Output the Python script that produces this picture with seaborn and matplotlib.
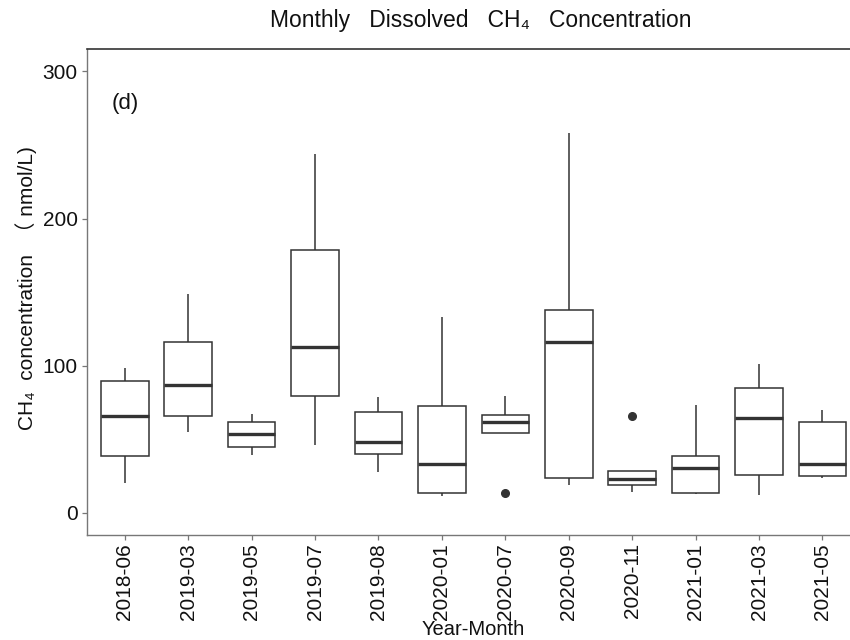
import matplotlib
matplotlib.use("Agg")
import matplotlib.pyplot as plt
import seaborn as sns
import pandas as pd

# ---- data (estimated observations per month; 5 per group) ----
months = ["2018-06", "2019-03", "2019-05", "2019-07", "2019-08", "2020-01",
          "2020-07", "2020-09", "2020-11", "2021-01", "2021-03", "2021-05"]
v_2018_06 = [20.6, 38.9, 65.6, 89.3, 98.6]
v_2019_03 = [55.0, 65.8, 86.8, 115.8, 149.0]
v_2019_05 = [39.1, 44.8, 53.4, 61.7, 67.2]
v_2019_07 = [46.1, 79.2, 112.4, 178.4, 243.6]
v_2019_08 = [28.0, 40.0, 48.4, 68.3, 78.5]
v_2020_01 = [11.5, 13.6, 33.2, 72.4, 133.0]
v_2020_07 = [13.8, 54.3, 61.5, 66.7, 79.6]
v_2020_09 = [19.0, 23.5, 116.2, 137.9, 257.8]
v_2020_11 = [14.0, 18.8, 22.8, 28.5, 66.0]
v_2021_01 = [12.9, 13.8, 30.3, 38.5, 73.5]
v_2021_03 = [12.0, 26.0, 64.2, 84.6, 100.9]
v_2021_05 = [23.5, 25.1, 33.2, 61.7, 69.7]
y_ticks = [0, 100, 200, 300]

groups = [v_2018_06, v_2019_03, v_2019_05, v_2019_07, v_2019_08, v_2020_01,
          v_2020_07, v_2020_09, v_2020_11, v_2021_01, v_2021_03, v_2021_05]
rows = []
for m, vals in zip(months, groups):
    for v in vals:
        rows.append({"month": m, "value": v})
df = pd.DataFrame(rows)

sns.set_style("ticks")
FAM = ["Liberation Sans", "DejaVu Sans", "Noto Sans CJK SC"]
plt.rcParams["font.family"] = FAM

fig = plt.figure(figsize=(8.5, 6.4), dpi=100)
W, H = 850, 640
left, right, top, bottom = 86.7, 860.5, 49.3, 535.0
ax = fig.add_axes([left / W, 1 - bottom / H, (right - left) / W, (bottom - top) / H])

dark = "#333333"
sns.boxplot(data=df, x="month", y="value", order=months, ax=ax,
            color="white", linecolor=dark, linewidth=1.1, width=0.75,
            showcaps=False, fliersize=5.5,
            flierprops=dict(marker="o", markerfacecolor=dark, markeredgecolor=dark),
            medianprops=dict(linewidth=2.4, color=dark),
            whiskerprops=dict(linewidth=1.1, color=dark))

ax.set_xlim(-0.6, 11.6)
ax.set_ylim(-15, 315)
ax.set_yticks(y_ticks)
ax.set_yticklabels([str(t) for t in y_ticks])
ax.tick_params(axis="both", labelsize=15, length=3.5, width=0.9,
               color="#777777", labelcolor="#111111", pad=3)
ax.tick_params(axis="x", pad=2.5)
plt.setp(ax.get_xticklabels(), rotation=90, va="top", ha="center")

for s in ["left", "bottom"]:
    ax.spines[s].set_color("#777777")
    ax.spines[s].set_linewidth(1.0)
ax.spines["top"].set_visible(True)
ax.spines["top"].set_color(dark)
ax.spines["top"].set_linewidth(1.2)
ax.spines["right"].set_visible(False)

ax.set_xlabel("Year-Month", fontsize=14.5, color="#111111")
ax.xaxis.set_label_coords((473.6 - left) / (right - left), (bottom - 629.5) / (bottom - top))
ax.xaxis.label.set_va("center")

ax.set_ylabel("CH\u2084  concentration  \uff08 nmol/L)", fontsize=15, color="#111111",
              family=FAM)
ax.yaxis.set_label_coords((26 - left) / (right - left), 0.5 + (292 - 288) / (bottom - top))
ax.yaxis.label.set_va("center")

ax.text(0, 278, "(d)", ha="center", va="center", fontsize=16, color="#111111")

fig.text(481 / W, 1 - 21 / H, "Monthly   Dissolved   CH\u2084   Concentration",
         ha="center", va="center", fontsize=16.5, color="#111111", family=FAM)

fig.savefig("out.png", dpi=100, facecolor="white")
